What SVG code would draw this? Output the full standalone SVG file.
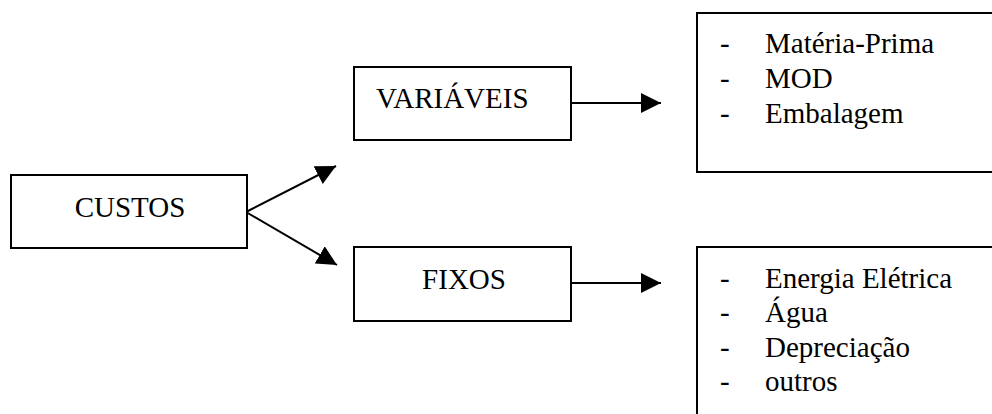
<svg xmlns="http://www.w3.org/2000/svg" width="992" height="414" viewBox="0 0 992 414">
<defs>
<marker id="ah" markerUnits="userSpaceOnUse" markerWidth="20" markerHeight="20" refX="20" refY="10" orient="auto" viewBox="0 0 20 20">
<path d="M0,0 L20,10 L0,20 z" fill="#000"/>
</marker>
<style>
.box{fill:#fff;stroke:#000;stroke-width:2}
.t{font-size:29px;fill:#000}
.e{stroke:#000;stroke-width:2;fill:none;marker-end:url(#ah)}
</style>
</defs>
<rect width="992" height="414" fill="#fff"/>
<g id="connectors">
<line class="e" x1="246" y1="212" x2="336" y2="166"/>
<line class="e" x1="246" y1="212" x2="337" y2="265"/>
<line class="e" x1="571" y1="103" x2="661" y2="103"/>
<line class="e" x1="571" y1="283" x2="661" y2="283"/>
</g>
<g font-family="'Liberation Serif', 'DejaVu Serif', serif">
<g id="custos">
<rect class="box" x="11" y="175" width="236" height="73"/>
<text class="t" x="130" y="217" text-anchor="middle">CUSTOS</text>
</g>
<g id="variaveis">
<rect class="box" x="354" y="67" width="217" height="73"/>
<text class="t" x="376" y="108">VARIÁVEIS</text>
</g>
<g id="fixos">
<rect class="box" x="354" y="247" width="217" height="74"/>
<text class="t" x="464" y="289" text-anchor="middle">FIXOS</text>
</g>
<g id="lista-variaveis">
<rect class="box" x="697" y="13" width="300" height="159"/>
<text class="t" x="720" y="53">-</text>
<text class="t" x="765" y="53">Matéria-Prima</text>
<text class="t" x="720" y="88">-</text>
<text class="t" x="765" y="88">MOD</text>
<text class="t" x="720" y="123">-</text>
<text class="t" x="765" y="123">Embalagem</text>
</g>
<g id="lista-fixos">
<rect class="box" x="697" y="247" width="300" height="180"/>
<text class="t" x="720" y="288">-</text>
<text class="t" x="765" y="288">Energia Elétrica</text>
<text class="t" x="720" y="322">-</text>
<text class="t" x="765" y="322">Água</text>
<text class="t" x="720" y="357">-</text>
<text class="t" x="765" y="357">Depreciação</text>
<text class="t" x="720" y="391">-</text>
<text class="t" x="765" y="391">outros</text>
</g>
</g>
</svg>
